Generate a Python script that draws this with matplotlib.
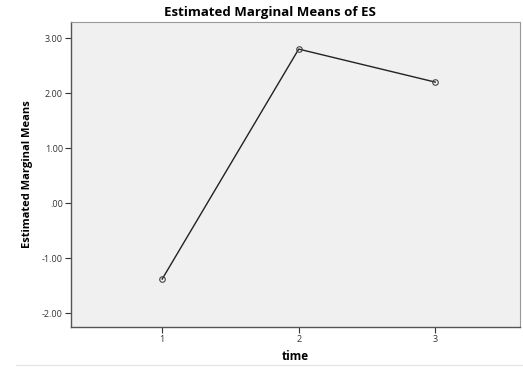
import matplotlib
matplotlib.use("Agg")
import matplotlib.pyplot as plt

time_levels = [1, 2, 3]
means = [-1.38, 2.80, 2.20]
y_ticks = [-2.0, -1.0, 0.0, 1.0, 2.0, 3.0]
y_tick_labels = ["-2.00", "-1.00", ".00", "1.00", "2.00", "3.00"]

plt.rcParams['font.family'] = ['Open Sans', 'DejaVu Sans']

fig = plt.figure(figsize=(5.23, 3.69), dpi=100)
ax = fig.add_axes([0.136, 0.114, 0.858, 0.826])
ax.set_facecolor("#f0f0f0")

ax.plot(time_levels, means, color="#222222", lw=1.0, marker="o", ms=4,
        mfc="none", mec="#444444", mew=0.8)

ax.set_xlim(0.333, 3.62)
ax.set_ylim(-2.25, 3.29)
ax.set_xticks(time_levels)
ax.set_xticklabels([str(t) for t in time_levels])
ax.set_yticks(y_ticks)
ax.set_yticklabels(y_tick_labels)
ax.tick_params(labelsize=6.5, colors="#333333", length=4, width=0.8, pad=2)

for s in ["left", "bottom"]:
    ax.spines[s].set_color("#555555")
    ax.spines[s].set_linewidth(1.0)
for s in ["top", "right"]:
    ax.spines[s].set_color("#999999")
    ax.spines[s].set_linewidth(0.8)

# title sits a bit left of the plot centre, like the SPSS output
fig.text(0.516, 0.965, "Estimated Marginal Means of ES", fontsize=9.5,
         fontweight="bold", ha="center", va="center")
ax.set_xlabel("time", fontsize=8.5, fontweight="bold", labelpad=4)
ax.set_ylabel("Estimated Marginal Means", fontsize=8, fontweight="bold", labelpad=6)

fig.add_artist(plt.Line2D([0.03, 1.0], [0.01, 0.01], color="#e6e6e6", lw=1))

fig.savefig("out.png", dpi=100)
